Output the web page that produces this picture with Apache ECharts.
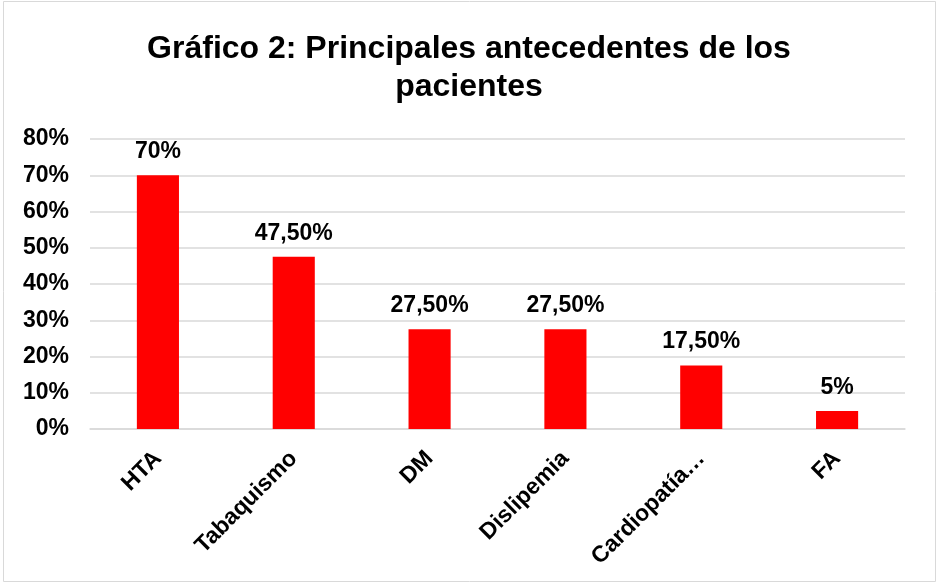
<!DOCTYPE html>
<html>
<head>
<meta charset="utf-8">
<script src="https://cdn.jsdelivr.net/npm/echarts@6/dist/echarts.min.js"></script>
<style>
  html, body { margin: 0; padding: 0; background: #fff; }
  #main { width: 938px; height: 583px; }
</style>
</head>
<body>
<div id="main"></div>
<script>
var categories = ['HTA', 'Tabaquismo', 'DM', 'Dislipemia', 'Cardiopatía…', 'FA'];
var values = [70, 47.5, 27.5, 27.5, 17.5, 5];
var valueLabels = ['70%', '47,50%', '27,50%', '27,50%', '17,50%', '5%'];

var myChart = echarts.init(document.getElementById('main'));

var font = 'Liberation Sans, Arial, sans-serif';

var option = {
    backgroundColor: '#fff',
    title: {
        text: 'Gráfico 2: Principales antecedentes de los\npacientes',
        left: 'center',
        top: 25,
        textStyle: {
            fontFamily: font,
            fontSize: 32,
            fontWeight: 'bold',
            color: '#000',
            lineHeight: 38
        }
    },
    graphic: [{
        type: 'rect',
        shape: { x: 3.5, y: 1.5, width: 932, height: 580 },
        style: { fill: 'none', stroke: '#d9d9d9', lineWidth: 1 },
        silent: true
    }],
    grid: {
        left: 90,
        right: 33,
        top: 139,
        bottom: 154
    },
    xAxis: {
        type: 'category',
        data: categories,
        axisLine: { lineStyle: { color: '#d9d9d9', width: 1.5 } },
        axisTick: { show: false },
        axisLabel: {
            rotate: 45,
            margin: 26,
            fontFamily: font,
            fontSize: 23,
            fontWeight: 'bold',
            color: '#000'
        }
    },
    yAxis: {
        type: 'value',
        min: 0,
        max: 80,
        interval: 10,
        axisLine: { show: false },
        axisTick: { show: false },
        splitLine: { lineStyle: { color: '#d9d9d9', width: 1.5 } },
        axisLabel: {
            formatter: '{value}%',
            margin: 21,
            fontFamily: font,
            fontSize: 23,
            fontWeight: 'bold',
            color: '#000'
        }
    },
    series: [{
        name: 'Antecedentes',
        type: 'bar',
        data: values,
        barWidth: '31%',
        itemStyle: { color: '#ff0000' },
        label: {
            show: true,
            position: 'top',
            distance: 12,
            formatter: function (p) { return valueLabels[p.dataIndex]; },
            fontFamily: font,
            fontSize: 23,
            fontWeight: 'bold',
            color: '#000'
        }
    }]
};

myChart.setOption(option);
</script>
</body>
</html>
